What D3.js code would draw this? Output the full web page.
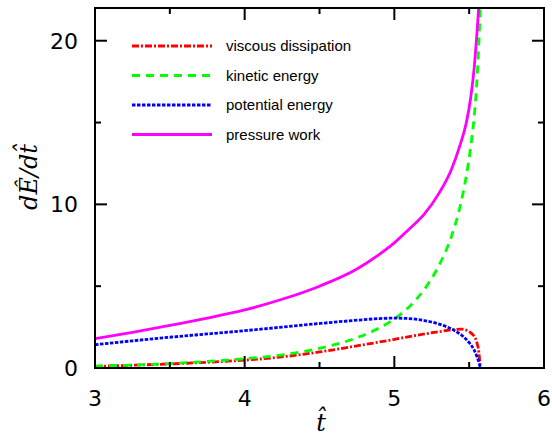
<!DOCTYPE html>
<html>
<head>
<meta charset="utf-8">
<script src="https://cdn.jsdelivr.net/npm/d3@7"></script>
<style>
  body { margin: 0; background: #fff; }
  .tick-label { font-family: "DejaVu Sans", sans-serif; font-size: 22px; fill: #000; }
  .legend-label { font-family: "Liberation Sans", Arial, sans-serif; font-size: 15px; fill: #000; }
  .axis-label { font-family: "DejaVu Serif", serif; font-style: italic; font-size: 24px; fill: #000; }
</style>
</head>
<body>
<div id="chart"></div>
<script>
// time samples (t-hat) and the four energy rates
var tViscous  = [3, 3.25, 3.5, 3.75, 4, 4.25, 4.5, 4.75, 5, 5.15, 5.3, 5.4, 5.45, 5.5, 5.53, 5.55, 5.565, 5.575];
var viscous   = [0.1, 0.17, 0.25, 0.35, 0.48, 0.68, 0.98, 1.35, 1.75, 2.0, 2.22, 2.35, 2.37, 2.22, 1.98, 1.6, 0.95, 0];

var tKinetic  = [3, 3.25, 3.5, 3.75, 4, 4.25, 4.5, 4.75, 4.9, 5, 5.1, 5.2, 5.3, 5.38, 5.44, 5.48, 5.51, 5.535, 5.55, 5.563, 5.572, 5.58];
var kinetic   = [0.12, 0.18, 0.27, 0.4, 0.57, 0.8, 1.2, 1.85, 2.45, 3.0, 3.75, 4.8, 6.3, 8.0, 9.9, 11.7, 13.5, 15.5, 17.3, 19.5, 21.5, 23.5];

var tPotential = [3, 3.25, 3.5, 3.75, 4, 4.25, 4.5, 4.75, 4.9, 5, 5.1, 5.2, 5.3, 5.4, 5.45, 5.5, 5.53, 5.55, 5.565, 5.575];
var potential  = [1.42, 1.66, 1.88, 2.08, 2.28, 2.5, 2.72, 2.92, 3.02, 3.05, 3.02, 2.9, 2.68, 2.3, 2.0, 1.55, 1.15, 0.75, 0.35, 0];

var tPressure = [3, 3.25, 3.5, 3.75, 4, 4.25, 4.5, 4.75, 4.9, 5, 5.1, 5.2, 5.3, 5.38, 5.44, 5.48, 5.51, 5.533, 5.55, 5.565, 5.575];
var pressure  = [1.8, 2.18, 2.6, 3.05, 3.55, 4.2, 5.0, 6.05, 6.95, 7.65, 8.5, 9.4, 10.7, 12.1, 13.65, 14.95, 16.5, 18.3, 20.2, 22.2, 23.8];

var seriesNames = ["viscous dissipation", "kinetic energy", "potential energy", "pressure work"];
var xMajor = [3, 4, 5, 6];
var xMinor = [3.5, 4.5, 5.5];
var yMajor = [0, 10, 20];
var yMinor = [5, 15];

var W = 552, H = 437;
var margin = {top: 8, right: 8, bottom: 69, left: 95};
var width = W - margin.left - margin.right;
var height = H - margin.top - margin.bottom;

var svg = d3.select("#chart").append("svg")
  .attr("width", W)
  .attr("height", H);

var g = svg.append("g")
  .attr("transform", "translate(" + margin.left + "," + margin.top + ")");

var x = d3.scaleLinear().domain([3, 6]).range([0, width]);
var y = d3.scaleLinear().domain([0, 22]).range([height, 0]);

g.append("clipPath").attr("id", "clip")
  .append("rect").attr("width", width).attr("height", height);

var series = [
  {name: seriesNames[0], t: tViscous, v: viscous, color: "#ff0000", dash: "7,2,2,2"},
  {name: seriesNames[1], t: tKinetic, v: kinetic, color: "#00ff00", dash: "8,6"},
  {name: seriesNames[2], t: tPotential, v: potential, color: "#0000ff", dash: "3.5,1.5"},
  {name: seriesNames[3], t: tPressure, v: pressure, color: "#ff00ff", dash: null}
];

var line = d3.line()
  .x(function(d) { return x(d[0]); })
  .y(function(d) { return y(d[1]); })
  .curve(d3.curveMonotoneX);

var curves = g.append("g").attr("clip-path", "url(#clip)");
series.forEach(function(s) {
  curves.append("path")
    .datum(d3.zip(s.t, s.v))
    .attr("fill", "none")
    .attr("stroke", s.color)
    .attr("stroke-width", 2.8)
    .attr("stroke-dasharray", s.dash)
    .attr("d", line);
});

// legend
var legend = g.append("g");
series.forEach(function(s, i) {
  var ly = 38 + i * 29.5;
  legend.append("line")
    .attr("x1", 37).attr("x2", 117)
    .attr("y1", ly).attr("y2", ly)
    .attr("stroke", s.color)
    .attr("stroke-width", 2.8)
    .attr("stroke-dasharray", s.dash);
  legend.append("text")
    .attr("class", "legend-label")
    .attr("x", 131).attr("y", ly)
    .attr("dy", "0.35em")
    .text(s.name);
});

// axes: ticks inward on all four sides
function ticks(sel, vals, len, horiz, atEnd) {
  vals.forEach(function(v) {
    var l = sel.append("line").attr("stroke", "#000").attr("stroke-width", 2);
    if (horiz) {
      var y0 = atEnd ? 0 : height, y1 = atEnd ? len : height - len;
      l.attr("x1", x(v)).attr("x2", x(v)).attr("y1", y0).attr("y2", y1);
    } else {
      var x0 = atEnd ? width : 0, x1 = atEnd ? width - len : len;
      l.attr("x1", x0).attr("x2", x1).attr("y1", y(v)).attr("y2", y(v));
    }
  });
}
var axes = g.append("g");
ticks(axes, xMajor, 12, true, false);
ticks(axes, xMinor, 6, true, false);
ticks(axes, xMajor, 12, true, true);
ticks(axes, xMinor, 6, true, true);
ticks(axes, yMajor, 12, false, false);
ticks(axes, yMinor, 6, false, false);
ticks(axes, yMajor, 12, false, true);
ticks(axes, yMinor, 6, false, true);

axes.append("rect")
  .attr("width", width).attr("height", height)
  .attr("fill", "none").attr("stroke", "#000").attr("stroke-width", 2);

axes.selectAll("text.xt").data(xMajor).enter().append("text")
  .attr("class", "tick-label")
  .attr("x", function(d) { return x(d); })
  .attr("y", height + 38)
  .attr("text-anchor", "middle")
  .text(function(d) { return d; });

axes.selectAll("text.yt").data(yMajor).enter().append("text")
  .attr("class", "tick-label")
  .attr("x", -17)
  .attr("y", function(d) { return y(d); })
  .attr("dy", "0.36em")
  .attr("text-anchor", "end")
  .text(function(d) { return d; });

// axis titles
svg.append("text")
  .attr("class", "axis-label")
  .attr("x", 321).attr("y", 431)
  .attr("text-anchor", "middle")
  .text("t\u0302");

svg.append("text")
  .attr("class", "axis-label")
  .attr("transform", "translate(37,177) rotate(-90)")
  .attr("text-anchor", "middle")
  .text("dE\u0302/dt\u0302");
</script>
</body>
</html>
